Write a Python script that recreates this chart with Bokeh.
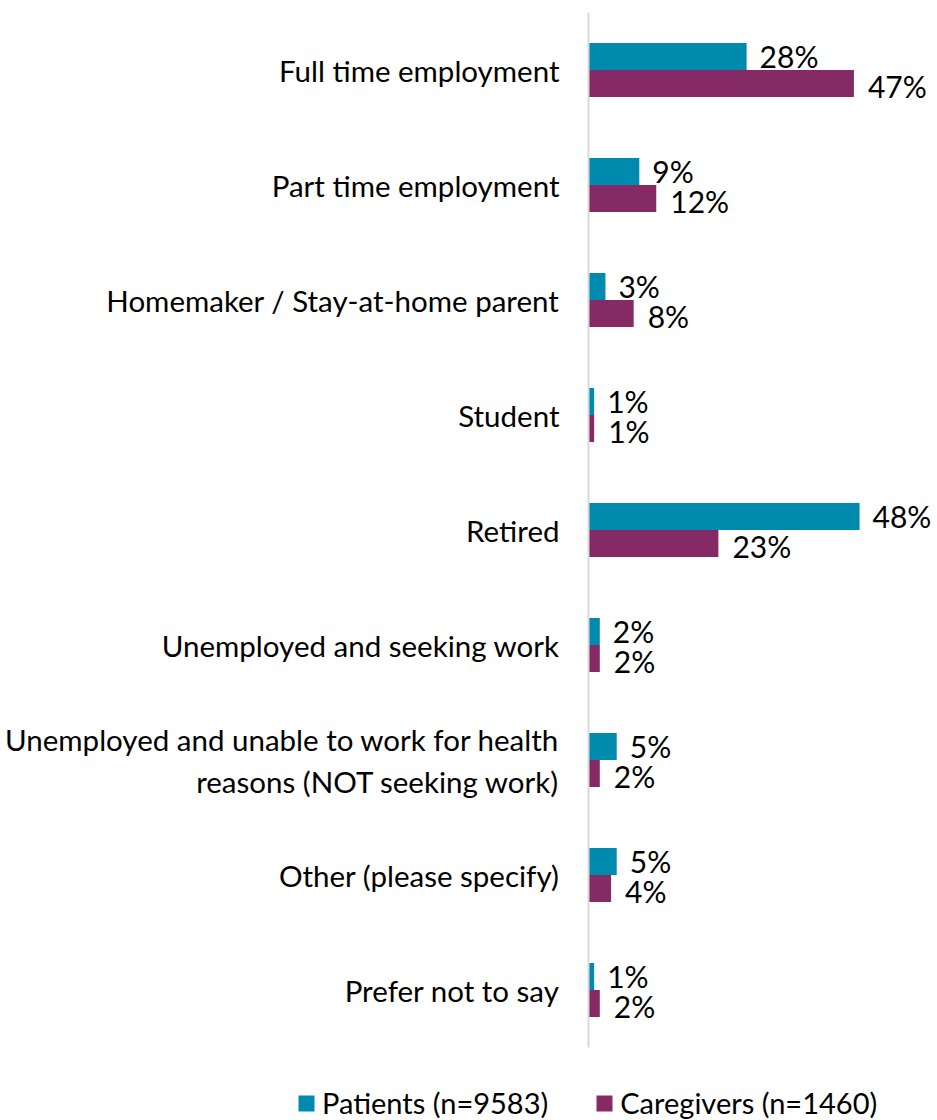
from bokeh.plotting import figure
from bokeh.models import ColumnDataSource, Legend, LegendItem, FactorRange
from bokeh.layouts import column
from bokeh.transform import dodge
from bokeh.core.properties import value
from bokeh.embed import file_html
from bokeh.resources import INLINE

categories = [
    "Full time employment",
    "Part time employment",
    "Homemaker / Stay-at-home parent",
    "Student",
    "Retired",
    "Unemployed and seeking work",
    "Unemployed and unable to work for health\nreasons (NOT seeking work)",
    "Other (please specify)",
    "Prefer not to say",
]
patients = [28, 9, 3, 1, 48, 2, 5, 5, 1]
caregivers = [47, 12, 8, 1, 23, 2, 2, 4, 2]
patients_label = "Patients (n=9583)"
caregivers_label = "Caregivers (n=1460)"

TEAL = "#008BAE"
PURPLE = "#862A66"
FONT = "Lato"
W = 937

src = ColumnDataSource(dict(
    cat=categories,
    pat=patients,
    car=caregivers,
    pat_t=[f"{v}%" for v in patients],
    car_t=[f"{v}%" for v in caregivers],
))

p = figure(
    width=W, height=1050,
    y_range=FactorRange(*categories[::-1], range_padding=0),
    x_range=(0, 61.8),
    output_backend="svg", toolbar_location=None,
    min_border_top=12, min_border_right=0, min_border_left=588, min_border_bottom=3,
)
p.outline_line_color = None
p.xgrid.visible = False
p.ygrid.visible = False
p.xaxis.visible = False

bh = 0.235
r1 = p.hbar(y=dodge("cat", bh / 2, range=p.y_range), right="pat", left=0, height=bh,
            source=src, color=TEAL, line_color=None)
r2 = p.hbar(y=dodge("cat", -bh / 2, range=p.y_range), right="car", left=0, height=bh,
            source=src, color=PURPLE, line_color=None)

p.text(x="pat", y=dodge("cat", bh / 2, range=p.y_range), text="pat_t", source=src,
       x_offset=13, text_baseline="middle", text_align="left",
       text_font=value(FONT), text_font_size="30px", text_color="black")
p.text(x="car", y=dodge("cat", -bh / 2 - 0.02, range=p.y_range), text="car_t", source=src,
       x_offset=14, text_baseline="middle", text_align="left",
       text_font=value(FONT), text_font_size="30px", text_color="black")

ax = p.yaxis[0]
ax.axis_line_color = "#d9d9d9"
ax.axis_line_width = 2
ax.major_tick_line_color = None
ax.minor_tick_line_color = None
ax.major_tick_out = 0
ax.major_label_standoff = 29
ax.major_label_text_font = FONT
ax.major_label_text_font_size = "29.5px"
ax.major_label_text_color = "black"

# legend strip below the chart (its bars lie outside its visible range)
lf = figure(width=W, height=70, x_range=(-2, -1), y_range=(0, 1),
            output_backend="svg", toolbar_location=None,
            min_border=0)
lf.frame_align = False
lf.outline_line_color = None
lf.axis.visible = False
lf.grid.visible = False
g1 = lf.hbar(y=0.5, left=0, right="pat", height=0.5, source=src, color=TEAL, line_color=None)
g2 = lf.hbar(y=0.5, left=0, right="car", height=0.5, source=src, color=PURPLE, line_color=None)
legend = Legend(
    items=[LegendItem(label=patients_label, renderers=[g1], index=0),
           LegendItem(label=caregivers_label, renderers=[g2], index=0)],
    orientation="horizontal",
    location=(296, 0),
    label_text_font=FONT, label_text_font_size="29px", label_text_color="black",
    glyph_width=20, glyph_height=20, label_standoff=6, spacing=46,
    border_line_color=None, background_fill_alpha=0, padding=0, margin=0,
)
lf.add_layout(legend, "center")

layout = column(p, lf, spacing=0)
open("out.html", "w").write(file_html(layout, INLINE))
